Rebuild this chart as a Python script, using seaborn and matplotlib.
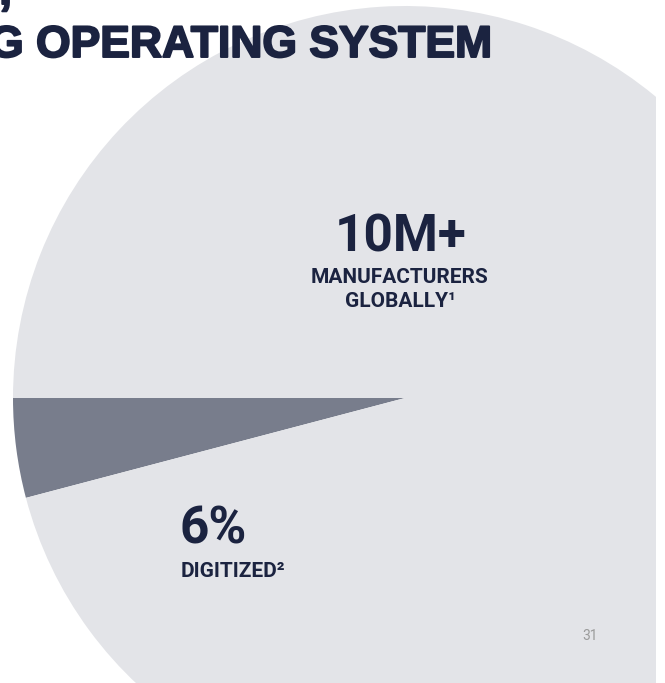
import matplotlib
matplotlib.use("Agg", force=True)
import matplotlib.pyplot as plt
import matplotlib.patheffects as pe
import seaborn as sns
from matplotlib.patches import Rectangle

# wedge shares as drawn on the slide (the dark wedge spans ~15 degrees)
SEGMENTS = ["Digitized", "Not digitized"]
SHARES = [4.1, 95.9]
SEGMENT_COLORS = ["#787D8C", "#E3E4E8"]

HEADLINE = "G OPERATING SYSTEM"
BIG_STAT = "10M+"
BIG_LABEL = ["MANUFACTURERS", "GLOBALLY\u00b9"]
SMALL_STAT = "6%"
SMALL_LABEL = "DIGITIZED\u00b2"
PAGE_NUMBER = "31"

W, H = 665, 683
SLIDE_RIGHT = 656
NAVY = "#1B2340"


def py(y):
    # slide pixel row -> data y (axes use pixel units, y up)
    return H - y


def main() -> None:
    sns.set_theme(style="white")
    plt.rcParams["font.family"] = ["Roboto", "DejaVu Sans"]

    fig = plt.figure(figsize=(W / 100, H / 100), dpi=100)
    ax = fig.add_axes([0, 0, 1, 1])
    ax.pie(
        SHARES,
        colors=SEGMENT_COLORS,
        center=(405, py(398)),
        radius=392,
        startangle=180,
        counterclock=True,
        wedgeprops=dict(linewidth=0),
    )
    ax.set_xlim(0, W)
    ax.set_ylim(0, H)
    ax.set_aspect("equal")
    ax.axis("off")

    # white margin right of the slide edge
    ax.add_patch(Rectangle((SLIDE_RIGHT, 0), W - SLIDE_RIGHT, H, facecolor="white",
                           edgecolor="none", zorder=5))

    # heavier headline: bold face plus a thin stroke in the same colour
    heavy = [pe.withStroke(linewidth=1.4, foreground=NAVY)]
    ax.text(-1, py(4), ",", ha="left", va="baseline", fontsize=34, fontweight="bold",
            family="Liberation Sans", color=NAVY, clip_on=False, path_effects=heavy)
    ax.text(493, py(57), HEADLINE, ha="right", va="baseline", fontsize=32, fontweight="bold",
            family="Liberation Sans", color=NAVY, clip_on=False, path_effects=heavy)

    ax.text(401, py(252), BIG_STAT, ha="center", va="baseline", fontsize=37, fontweight="bold", color=NAVY)
    ax.text(400, py(283), BIG_LABEL[0], ha="center", va="baseline", fontsize=15, fontweight="bold", color=NAVY)
    ax.text(400, py(307), BIG_LABEL[1], ha="center", va="baseline", fontsize=15, fontweight="bold", color=NAVY)

    ax.text(180, py(543), SMALL_STAT, ha="left", va="baseline", fontsize=37, fontweight="bold", color=NAVY)
    ax.text(181, py(577), SMALL_LABEL, ha="left", va="baseline", fontsize=15, fontweight="bold", color=NAVY)

    ax.text(590, py(640), PAGE_NUMBER, ha="center", va="baseline", fontsize=10, color="#9B9B9B")

    fig.savefig("out.png", dpi=100)
    plt.close(fig)


if __name__ == "__main__":
    main()
